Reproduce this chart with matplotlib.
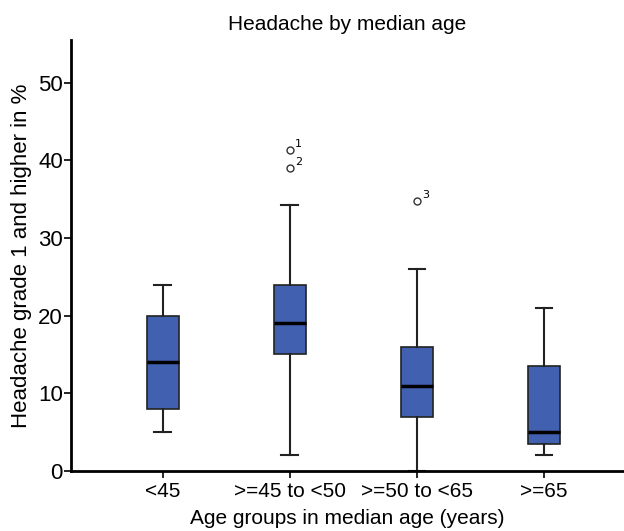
import matplotlib
matplotlib.use('Agg')
import matplotlib.pyplot as plt

plt.rcParams['font.family'] = ['Liberation Sans', 'DejaVu Sans']

groups = ['<45', '>=45 to <50', '>=50 to <65', '>=65']
whislo = [5, 2, 0, 2]
q1 = [8, 15, 7, 3.5]
med = [14, 19, 11, 5]
q3 = [20, 24, 16, 13.5]
whishi = [24, 34.2, 26, 21]
fliers = [[], [41.3, 39.0], [34.8], []]
flier_ids = [[], ['1', '2'], ['3'], []]

stats = []
for i in range(len(groups)):
    stats.append({'whislo': whislo[i], 'q1': q1[i], 'med': med[i], 'q3': q3[i],
                  'whishi': whishi[i], 'fliers': fliers[i], 'label': groups[i]})

fig = plt.figure(figsize=(6.24, 5.31), dpi=100)
ax = fig.add_axes([0.114, 0.113, 0.886, 0.812])

ax.bxp(stats, positions=[1, 2, 3, 4], widths=0.25, patch_artist=True,
       boxprops=dict(facecolor='#4160AF', edgecolor='#222222', linewidth=1.2),
       medianprops=dict(color='black', linewidth=2.5),
       whiskerprops=dict(color='#222222', linewidth=1.5),
       capprops=dict(color='#222222', linewidth=1.5),
       capwidths=0.13,
       flierprops=dict(marker='o', markerfacecolor='white', markeredgecolor='#333333',
                       markersize=5, markeredgewidth=1))

# case numbers next to the outliers
for i in range(len(groups)):
    for v, lab in zip(fliers[i], flier_ids[i]):
        ax.annotate(lab, (i + 1, v), xytext=(4, 2), textcoords='offset points',
                    fontsize=8, family='DejaVu Sans')

ax.set_xlim(0.28, 4.63)
ax.set_ylim(0, 55.5)
ax.set_yticks([0, 10, 20, 30, 40, 50])
ax.spines['top'].set_visible(False)
ax.spines['right'].set_visible(False)
ax.spines['left'].set_linewidth(2)
ax.spines['bottom'].set_linewidth(2)
ax.tick_params(axis='both', width=1.2, length=5)
ax.tick_params(axis='x', labelsize=15, pad=3)
ax.tick_params(axis='y', labelsize=16, pad=1)
ax.set_ylabel('Headache grade 1 and higher in %', fontsize=16, labelpad=4)
ax.set_xlabel('Age groups in median age (years)', fontsize=15, labelpad=6)
ax.set_title('Headache by median age', fontsize=15, pad=7)

fig.savefig('out.png', dpi=100)
